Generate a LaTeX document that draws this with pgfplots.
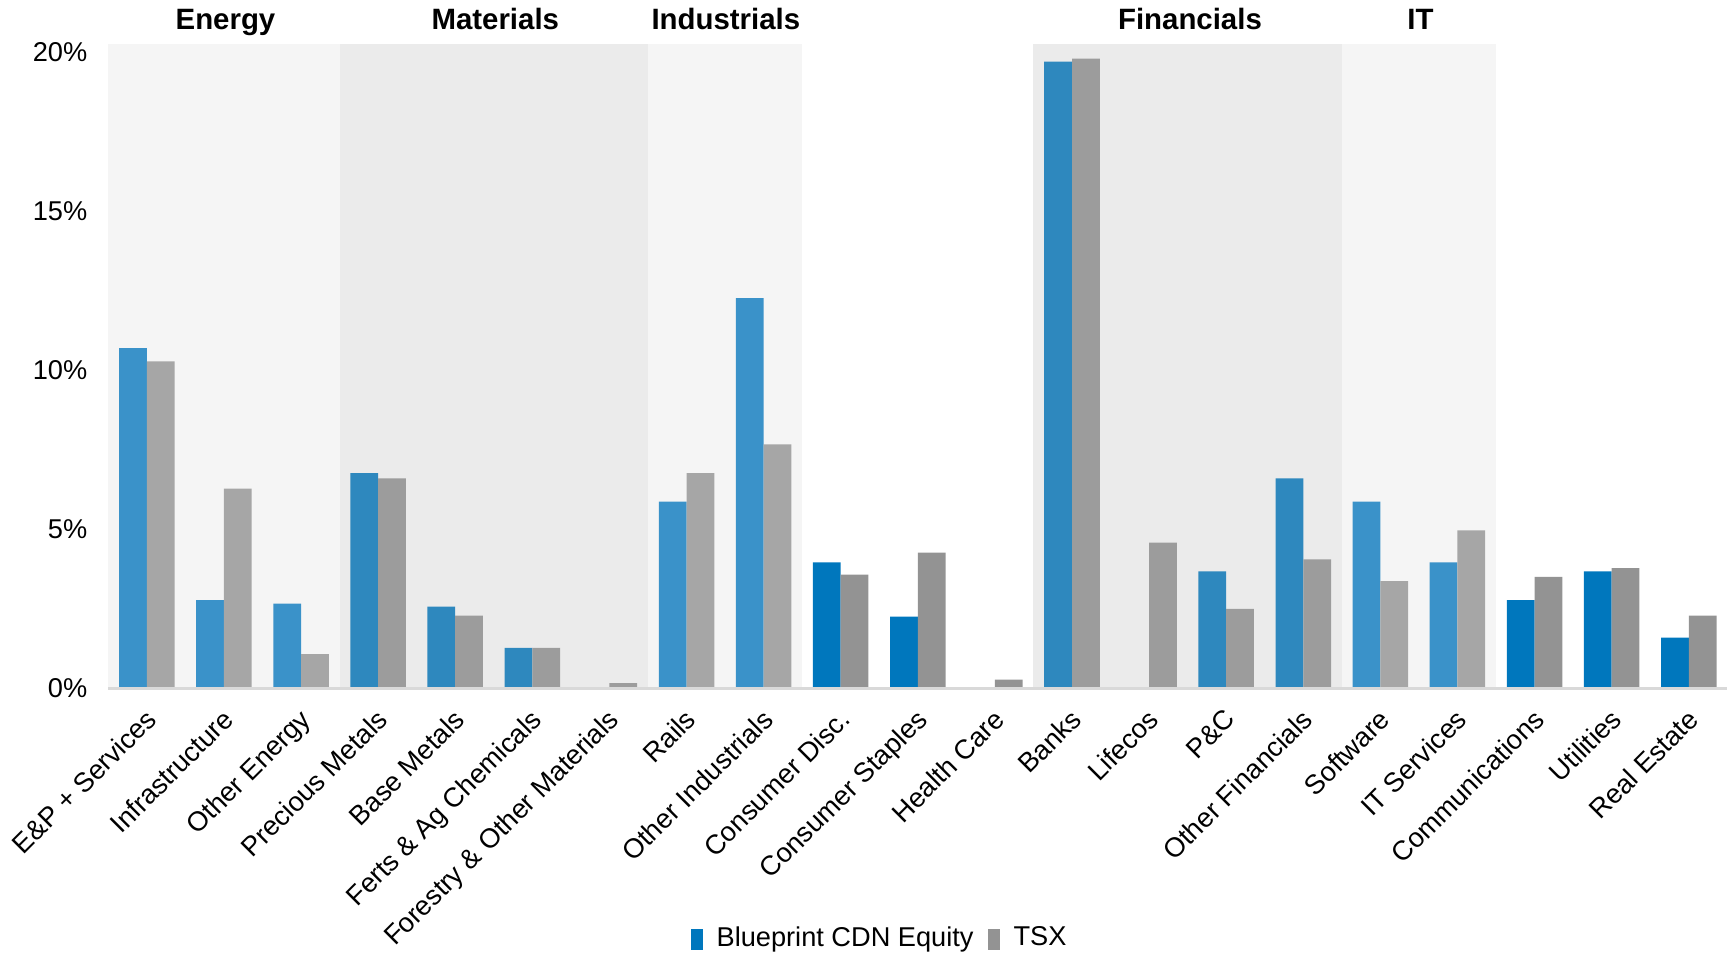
\documentclass[border=0pt]{standalone}
\usepackage{pgfplots}
\pgfplotsset{compat=1.18}
\usepackage{fontspec}
\setmainfont{Liberation Sans}
\definecolor{bA}{HTML}{3A92C9}
\definecolor{bB}{HTML}{2E88BE}
\definecolor{bC}{HTML}{0077BD}
\definecolor{gA}{HTML}{A6A6A6}
\definecolor{gB}{HTML}{9C9C9C}
\definecolor{gC}{HTML}{939393}
\definecolor{shL}{HTML}{F5F5F5}
\definecolor{shD}{HTML}{EBEBEB}
\newcommand{\lf}{\fontsize{13.6}{16}\selectfont}
\newcommand{\tf}{\fontsize{14.7}{17}\selectfont\bfseries}
\begin{document}
\begin{tikzpicture}
\path[use as bounding box] (-54.15pt,-133.25pt) rectangle (812.35pt,344.25pt);
\begin{axis}[
  at={(0,0)}, anchor=south west,
  scale only axis, width=809.5pt, height=322.15pt,
  xmin=-0.5, xmax=20.5, ymin=0, ymax=20.24,
  ybar, bar width=0.36,
  axis line style={draw=none},
  major tick length=0pt,
  clip=false,
  xtick={0,...,20},
  xticklabels={E\&P + Services, Infrastructure, Other Energy, Precious Metals, Base Metals, Ferts \& Ag Chemicals, Forestry \& Other Materials, Rails, Other Industrials, Consumer Disc., Consumer Staples, Health Care, Banks, Lifecos, P\&C, Other Financials, Software, IT Services, Communications, Utilities, Real Estate},
  xticklabel style={rotate=45, anchor=north east, font=\lf, inner sep=1pt, xshift=-6.5pt, yshift=-4.5pt},
  ytick={0,5,10,15,20},
  yticklabel={\pgfmathprintnumber{\tick}\%},
  yticklabel style={font=\lf, xshift=-7pt},
  /pgf/number format/assume math mode=true,
  legend style={at={(rel axis cs:0.477,-0.387)}, anchor=center, draw=none, fill=none, font=\lf, legend columns=2, column sep=5pt, inner sep=0pt},
  legend image code/.code={\fill[#1] (0pt,-6pt) rectangle (6pt,4.5pt);},
]
% sector shading
\fill[shL] (axis cs:-0.5,0) rectangle (axis cs:2.5,20.24);
\fill[shD] (axis cs:2.5,0) rectangle (axis cs:6.5,20.24);
\fill[shL] (axis cs:6.5,0) rectangle (axis cs:8.5,20.24);
\fill[shD] (axis cs:11.5,0) rectangle (axis cs:15.5,20.24);
\fill[shL] (axis cs:15.5,0) rectangle (axis cs:17.5,20.24);
% Blueprint CDN Equity
\addplot[fill=bA, draw=none, bar shift=-0.18, forget plot] coordinates {(0,10.69) (1,2.78) (2,2.67) (7,5.87) (8,12.26) (16,5.87) (17,3.96)};
\addplot[fill=bB, draw=none, bar shift=-0.18, forget plot] coordinates {(3,6.77) (4,2.57) (5,1.28) (6,0) (12,19.69) (13,0) (14,3.68) (15,6.60)};
\addplot[fill=bC, draw=none, bar shift=-0.18, forget plot] coordinates {(9,3.96) (10,2.26) (11,0) (18,2.78) (19,3.68) (20,1.60)};
% TSX
\addplot[fill=gA, draw=none, bar shift=0.18, forget plot] coordinates {(0,10.28) (1,6.28) (2,1.08) (7,6.77) (8,7.67) (16,3.37) (17,4.97)};
\addplot[fill=gB, draw=none, bar shift=0.18, forget plot] coordinates {(3,6.60) (4,2.29) (5,1.28) (6,0.17) (12,19.79) (13,4.58) (14,2.50) (15,4.06)};
\addplot[fill=gC, draw=none, bar shift=0.18, forget plot] coordinates {(9,3.58) (10,4.27) (11,0.28) (18,3.51) (19,3.78) (20,2.29)};
\draw[draw=black!15, line width=1.2pt] (axis cs:-0.5,0) -- (axis cs:20.5,0);
% sector titles
\node[font=\tf, anchor=base] at ([yshift=7.2pt]axis cs:1.02,20.24) {Energy};
\node[font=\tf, anchor=base] at ([yshift=7.2pt]axis cs:4.52,20.24) {Materials};
\node[font=\tf, anchor=base] at ([yshift=7.2pt]axis cs:7.51,20.24) {Industrials};
\node[font=\tf, anchor=base] at ([yshift=7.2pt]axis cs:13.53,20.24) {Financials};
\node[font=\tf, anchor=base] at ([yshift=7.2pt]axis cs:16.52,20.24) {IT};
\addlegendimage{fill=bC, draw=none}
\addlegendentry{Blueprint CDN Equity}
\addlegendimage{fill=gC, draw=none}
\addlegendentry{TSX}
\end{axis}
\end{tikzpicture}
\end{document}
